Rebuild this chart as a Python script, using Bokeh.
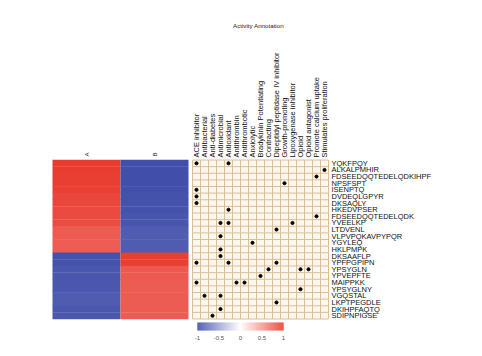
import numpy as np
from bokeh.plotting import figure
from bokeh.models import Range1d, ColumnDataSource
from bokeh.transform import linear_cmap
from bokeh.core.properties import value
from bokeh.embed import file_html
from bokeh.resources import INLINE

# ---------------- data ----------------
peptides = [
    "YQKFPQY", "ALKALPMHIR", "FDSEEDQQTEDELQDKIHPF", "NPSFSPT", "ISENPTQ",
    "DVDEQLGPYR", "DKSAQLY", "HKEDVPSER", "FDSEEDQQTEDELQDK", "YVEELKP",
    "LTDVENL", "VLPVPQKAVPYPQR", "YGYLEQ", "HKLPMPK", "DKSAAFLP",
    "YPFPGPIPN", "YPSYGLN", "YPVEPFTE", "MAIPPKK", "YPSYGLNY",
    "VGQSTAL", "LKPTPEGDLE", "DKIHPFAQTQ", "SDIPNPIGSE",
]
samples = ["A", "B"]
score_A = [0.96, 0.96, 0.95, 0.95, 0.94, 0.9, 0.9, 0.89, 0.89, 0.88,
           0.8, 0.8, 0.79, 0.79, -0.93, -0.93, -0.9, -0.9, -0.9, -0.9,
           -0.88, -0.88, -0.9, -0.9]
score_B = [-0.95, -0.95, -0.95, -0.95, -0.94, -0.93, -0.93, -0.93, -0.92, -0.92,
           -0.88, -0.88, -0.88, -0.88, 0.95, 0.95, 0.82, 0.82, 0.8, 0.8,
           0.8, 0.8, 0.8, 0.8]
activities = [
    "ACE inhibitor", "Antibacterial", "Anti-diabetes", "Antimicrobial",
    "Antioxidant", "Antithrombin", "Antithrombotic", "Anxiolytic",
    "Bradykinin Potentiating", "Contracting", "Dipeptidyl peptidase IV inhibitor",
    "Growth-promoting", "Lipoxygenase inhibitor", "Opioid", "Opioid antagonist",
    "Promote calcium uptake", "Stimulates proliferation",
]
# activity indices annotated for each peptide (row)
annotations = [
    [0, 4], [16], [15], [11], [0], [0], [0], [4], [15], [3, 4, 12],
    [10], [3], [7], [3], [3], [0, 4, 10], [9, 13, 14], [8], [0, 5, 6], [13],
    [1, 3], [10], [3], [2],
]
cbar_ticks = [-1, -0.5, 0, 0.5, 1]
cbar_labels = ["-1", "-0.5", "0", "0.5", "1"]
title = "Activity Annotation"

# ---------------- layout ----------------
W, H = 482, 356
def Y(py):
    return H - np.asarray(py, dtype=float)

n_rows = len(peptides)
hm_x0, hm_col_w = 52.0, 68.0
top, bottom = 159.5, 318.5
row_h = (bottom - top) / n_rows
gx0, cell_w = 192.0, 8.0
n_cols = len(activities)

# palette blue-white-red
def interp(c1, c2, t):
    return tuple(int(round(a + (b - a) * t)) for a, b in zip(c1, c2))
blue, white, red = (56, 70, 166), (255, 255, 255), (232, 52, 40)
palette = []
for i in range(256):
    t = i / 255
    c = interp(blue, white, t * 2) if t < 0.5 else interp(white, red, (t - 0.5) * 2)
    palette.append("#%02x%02x%02x" % c)

p = figure(width=W, height=H, x_range=Range1d(0, W), y_range=Range1d(0, H),
           output_backend="svg", toolbar_location=None, min_border=0,
           x_axis_type=None, y_axis_type=None)
p.outline_line_color = None
p.xgrid.visible = False
p.ygrid.visible = False

row_centers = top + row_h * (np.arange(n_rows) + 0.5)

# heatmap
hx, hy, hv = [], [], []
for j, scores in enumerate([score_A, score_B]):
    for i, v in enumerate(scores):
        hx.append(hm_x0 + hm_col_w * (j + 0.5))
        hy.append(Y(row_centers[i]))
        hv.append(v)
hsrc = ColumnDataSource(dict(x=hx, y=hy, v=hv))
p.rect(x="x", y="y", width=hm_col_w, height=row_h + 0.3, source=hsrc,
       fill_color=linear_cmap("v", palette, -1, 1), line_color=None)

# sample labels
p.text(x=[hm_x0 + hm_col_w * (j + 0.5) for j in range(len(samples))],
       y=[Y(156)] * len(samples), text=samples, angle=np.pi / 2,
       text_align="left", text_baseline="middle", text_font_size="6px",
       text_font=value("Liberation Sans"), text_color="#222222")

# annotation grid
gx1 = gx0 + cell_w * n_cols
p.quad(left=[gx0], right=[gx1], top=[Y(top)], bottom=[Y(bottom)],
       fill_color="#fcf6ec", line_color=None)
vx = [gx0 + cell_w * k for k in range(n_cols + 1)]
p.segment(x0=vx, x1=vx, y0=[Y(top)] * len(vx), y1=[Y(bottom)] * len(vx),
          line_color="#d9bf98", line_width=1)
hyl = [Y(top + row_h * k) for k in range(n_rows + 1)]
p.segment(x0=[gx0] * len(hyl), x1=[gx1] * len(hyl), y0=hyl, y1=hyl,
          line_color="#d9bf98", line_width=1)

dx, dy = [], []
for i, cols in enumerate(annotations):
    for c in cols:
        dx.append(gx0 + cell_w * (c + 0.5))
        dy.append(Y(row_centers[i]))
p.scatter(x=dx, y=dy, size=3.1, color="black")

# activity labels
p.text(x=[gx0 + cell_w * (c + 0.5) for c in range(n_cols)],
       y=[Y(157)] * n_cols, text=activities, angle=np.pi / 2,
       text_align="left", text_baseline="middle", text_font_size="7.5px",
       text_font=value("Liberation Sans"), text_color="#111111")

p.text(x=[258], y=[Y(25)], text=[title], text_align="center",
       text_baseline="middle", text_font_size="6.2px",
       text_font=value("Liberation Sans"), text_color="#222222")

# peptide labels
p.text(x=[gx1 + 3] * n_rows, y=Y(row_centers), text=peptides,
       text_align="left", text_baseline="middle", text_font_size="7.5px",
       text_font=value("Liberation Sans"), text_color="#111111")

# color bar
cb_x0, cb_x1 = 197.0, 283.0
cv = np.linspace(-1, 1, 86)
cw = (cb_x1 - cb_x0) / len(cv)
csrc = ColumnDataSource(dict(x=cb_x0 + cw * (np.arange(len(cv)) + 0.5),
                             y=[Y(326)] * len(cv), v=cv))
p.rect(x="x", y="y", width=cw + 0.2, height=8, source=csrc,
       fill_color=linear_cmap("v", palette, -1, 1), line_color=None)
p.text(x=[cb_x0 + (t + 1) / 2 * (cb_x1 - cb_x0) for t in cbar_ticks],
       y=[Y(337)] * len(cbar_ticks), text=cbar_labels, text_align="center",
       text_baseline="middle", text_font_size="6px",
       text_font=value("Liberation Sans"), text_color="#555555")

open("out.html", "w").write(file_html(p, INLINE))
